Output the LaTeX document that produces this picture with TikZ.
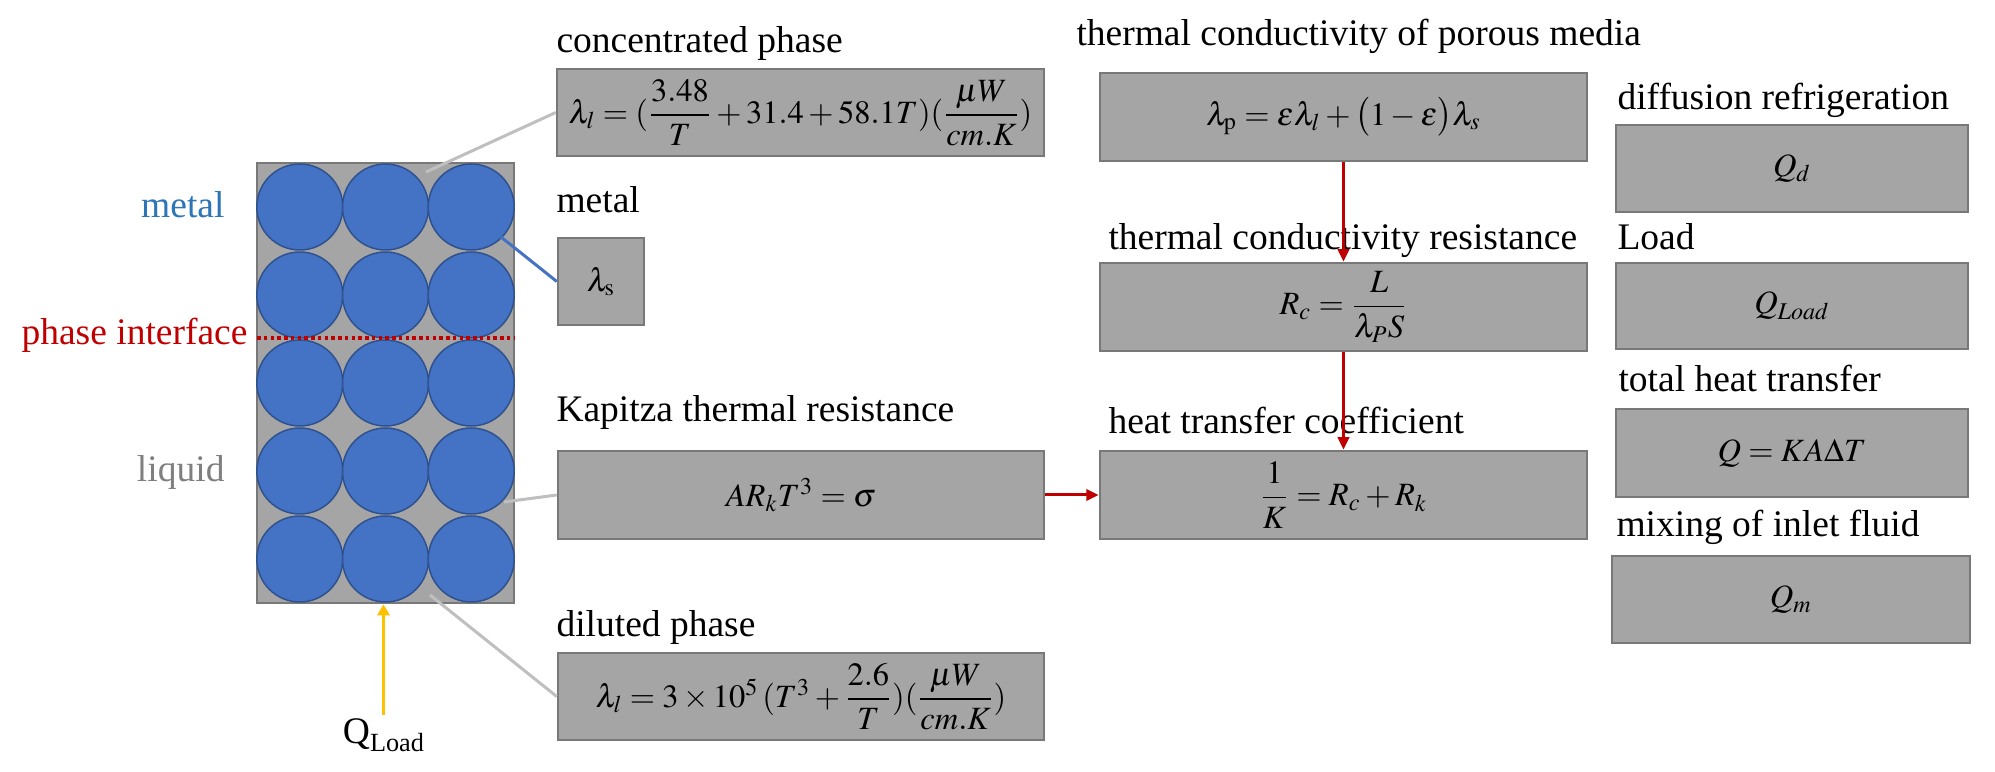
\documentclass[tikz,border=0pt]{standalone}
\usepackage{amsmath}
\usepackage{mathptmx}
\usepackage{fontspec}
\setmainfont{Liberation Serif}
\usetikzlibrary{arrows.meta}
\definecolor{boxfill}{HTML}{A5A5A5}
\definecolor{boxline}{HTML}{787878}
\definecolor{metalblue}{HTML}{4472C4}
\definecolor{metaledge}{HTML}{2F528F}
\definecolor{metaltext}{HTML}{2E75B6}
\definecolor{darkred}{HTML}{C00000}
\definecolor{liqgray}{HTML}{7F7F7F}
\definecolor{lightgray}{HTML}{BFBFBF}
\definecolor{gold}{HTML}{FFC000}
\begin{document}
\begin{tikzpicture}[x=0.4pt,y=-0.4pt,
  box/.style={draw=boxline, fill=boxfill, line width=1pt, inner sep=0pt,
    font=\fontsize{13}{15}\selectfont},
  lbl/.style={inner sep=0pt, font=\fontsize{15}{18}\selectfont},
  circ/.style={draw=metaledge, fill=metalblue, line width=0.6pt},
  gline/.style={draw=lightgray, line width=1.2pt},
  bline/.style={draw=metalblue, line width=1.2pt},
  rarrow/.style={draw=darkred, line width=1.2pt, -{Triangle[width=4.5pt,length=5pt]}},
  yarrow/.style={draw=gold, line width=1.3pt, -{Triangle[width=4.8pt,length=4.4pt]}},
  dotline/.style={draw=darkred, line width=1.4pt, dash pattern=on 1.4pt off 1.3pt}]
\useasboundingbox (0,0) rectangle (1995,772);

% porous bed
\node[draw=boxline, fill=boxfill, line width=1pt, minimum width=102.8pt, minimum height=176pt, inner sep=0pt] (bed) at (385.5,383) {};
\foreach \r in {0,...,4}{
  \foreach \c in {0,1,2}{
    \draw[circ] ({299.8+85.7*\c},{207+88*\r}) circle[radius=17.2pt];
  }
}
\coordinate (pil) at (257,338);
\coordinate (pir) at (514,338);
\draw[dotline] (pil) -- (pir);

% left labels
\node[lbl, anchor=base east, text=metaltext] (lmetal) at (225,218) {metal};
\node[lbl, anchor=base east, text=darkred] (lphase) at (248,345) {phase interface};
\node[lbl, anchor=base east, text=liqgray] (lliquid) at (225,482) {liquid};
\node[lbl, anchor=base] (lqload) at (383.5,743) {Q\raisebox{-0.22em}{\fontsize{10.5}{12}\selectfont Load}};

% middle-left column
\node[lbl, anchor=base west] (tconc) at (556,53) {concentrated phase};
\node[box, minimum width=194.8pt, minimum height=34.8pt] (conc) at (800.5,112.5)
  {$\lambda_l = (\dfrac{3.48}{T}+31.4+58.1T)(\dfrac{\mu W}{cm.K})$};
\node[lbl, anchor=base west] (tmetal) at (556,213) {metal};
\node[box, minimum width=34.4pt, minimum height=34.8pt] (ls) at (601,281.5) {$\lambda_{\mathrm{s}}$};
\node[lbl, anchor=base west] (tkap) at (556,422) {Kapitza thermal resistance};
\node[box, minimum width=194.4pt, minimum height=35.2pt] (kap) at (801,495) {$AR_kT^3 = \sigma$};
\node[lbl, anchor=base west] (tdil) at (556,637) {diluted phase};
\node[box, minimum width=194.4pt, minimum height=34.8pt] (dil) at (801,696.5)
  {$\lambda_l = 3\times 10^5\,(T^3+\dfrac{2.6}{T})(\dfrac{\mu W}{cm.K})$};

% middle column
\node[lbl, anchor=base west] (tpor) at (1076,46) {thermal conductivity of porous media};
\node[box, minimum width=194.8pt, minimum height=35.2pt] (por) at (1343.5,117)
  {$\lambda_{\mathrm{p}} = \varepsilon\lambda_l + \bigl(1-\varepsilon\bigr)\lambda_s$};
\node[lbl, anchor=base west] (trc) at (1108,250) {thermal conductivity resistance};
\node[box, minimum width=194.8pt, minimum height=35.2pt] (rc) at (1343.5,307)
  {$R_c = \dfrac{L}{\lambda_P S}$};
\node[lbl, anchor=base west] (tk) at (1108,434) {heat transfer coefficient};
\node[box, minimum width=194.8pt, minimum height=35.2pt] (k) at (1343.5,495)
  {$\dfrac{1}{K} = R_c + R_k$};

% right column
\node[lbl, anchor=base west] (tqd) at (1617,110) {diffusion refrigeration};
\node[box, minimum width=140.8pt, minimum height=34.8pt] (qd) at (1792,168.5) {$Q_d$};
\node[lbl, anchor=base west] (tql) at (1617,250) {Load};
\node[box, minimum width=140.8pt, minimum height=34.4pt] (ql) at (1792,306) {$Q_{Load}$};
\node[lbl, anchor=base west] (tqk) at (1618,392) {total heat transfer};
\node[box, minimum width=140.8pt, minimum height=35.2pt] (qk) at (1792,453) {$Q = KA\Delta T$};
\node[lbl, anchor=base west] (tqm) at (1616,537) {mixing of inlet fluid};
\node[box, minimum width=143.2pt, minimum height=34.8pt] (qm) at (1791,599.5) {$Q_m$};

% connectors
\coordinate (c1) at (426,172);
\coordinate (c2) at (501,237);
\coordinate (c3) at (504,502);
\coordinate (c4) at (430,595);
\draw[gline] (c1) -- (conc.west);
\draw[bline] (c2) -- (ls.west);
\draw[gline] (c3) -- (kap.west);
\draw[gline] (c4) -- (dil.west);
\draw[yarrow] ([yshift=1pt]lqload.north) -- (lqload.north |- bed.south);
\draw[rarrow] (kap.east) -- (k.west);
\draw[rarrow] (por.south) -- (rc.north);
\draw[rarrow] (rc.south) -- (k.north);
\end{tikzpicture}
\end{document}
